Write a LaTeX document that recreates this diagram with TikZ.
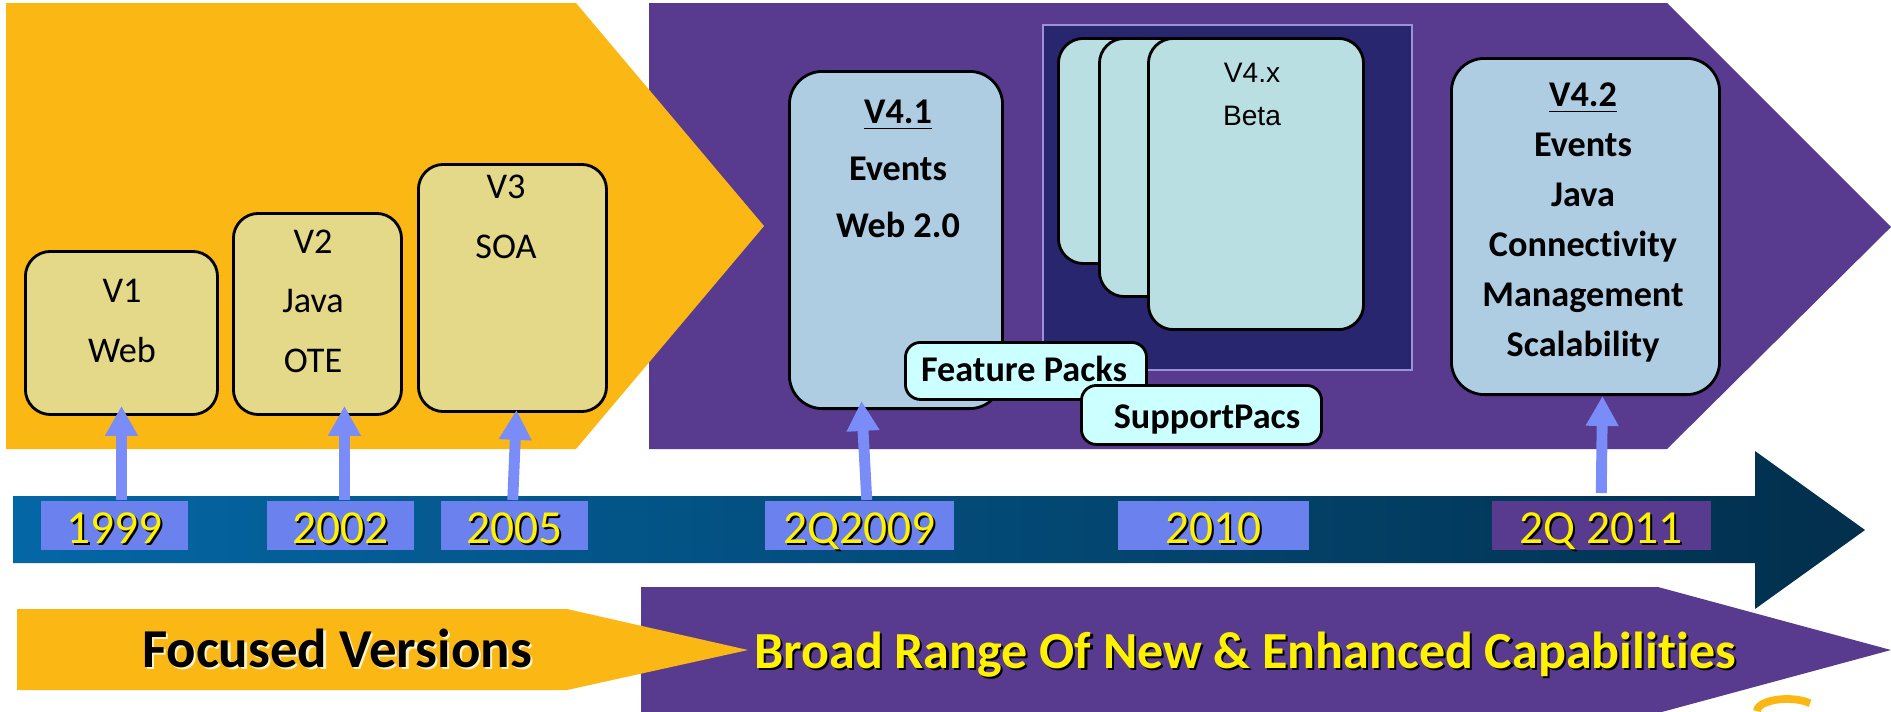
\documentclass[tikz,border=0pt]{standalone}
\usepackage{fontspec}
\setmainfont{Carlito}[Ligatures=NoCommon]
\newfontfamily\betafont{Liberation Sans}
\usetikzlibrary{arrows.meta}

\definecolor{banorange}{HTML}{FBB814}
\definecolor{banpurple}{HTML}{583B8E}
\definecolor{verkhaki}{HTML}{E3D988}
\definecolor{verblue}{HTML}{AECDE3}
\definecolor{betacyan}{HTML}{B9DFE2}
\definecolor{packcyan}{HTML}{CCFFFF}
\definecolor{betanavy}{HTML}{27266F}
\definecolor{betaedge}{HTML}{9C92DA}
\definecolor{yearfill}{HTML}{6A81EE}
\definecolor{yearlink}{HTML}{7A8CF8}
\definecolor{tlblue}{HTML}{0467A5}
\definecolor{tldark}{HTML}{022F4C}
\definecolor{glow}{HTML}{FFF4C8}

\newcommand{\shadowed}[3]{\makebox[0pt][l]{\hspace{0.6pt}\raisebox{-0.6pt}{\color{#1}#3}}{\color{#2}#3}}

\begin{document}
\begin{tikzpicture}[x=0.01cm, y=-0.01cm, >={Triangle[width=8.8pt,length=8.5pt]},
	verbox/.style={draw, line width=0.8pt, rounded corners=0.25cm, fill=verkhaki,
		anchor=north west, inner sep=0pt},
	newbox/.style={verbox, fill=verblue, rounded corners=0.33cm},
	betacard/.style={verbox, fill=betacyan, minimum width=2.15cm},
	packbox/.style={verbox, fill=packcyan, rounded corners=0.15cm},
	vertext/.style={anchor=base, align=center, font=\fontsize{10.3}{16.8}\selectfont},
	boldtext/.style={anchor=base, align=center, font=\bfseries\fontsize{10.3}{14.2}\selectfont},
	yearbox/.style={fill=yearfill, anchor=north west, inner sep=0pt, minimum height=0.49cm},
	yeartext/.style={anchor=base, font=\fontsize{13.5}{16}\selectfont},
	bantext/.style={anchor=base, font=\bfseries\fontsize{15.6}{18}\selectfont},
	link/.style={->, draw=yearlink, fill=yearlink, line width=3.1pt}]

	\useasboundingbox (0,0) rectangle (1891,711);
	\clip (0,0) rectangle (1891,711);

	% big chevrons
	\fill[banpurple] (649,3) -- (1667,3) -- (1891,227) -- (1667,449) -- (649,449) -- cycle;
	\fill[banorange] (6,3) -- (576,3) -- (764,226) -- (576,449) -- (6,449) -- cycle;

	% time line
	\shade[left color=tlblue, right color=tldark] (13,496) -- (1755,496) -- (1755,451)
		-- (1865,530) -- (1755,609) -- (1755,563) -- (13,563) -- cycle;

	% bottom banners
	\fill[banpurple] (641,587) -- (1658,587) -- (1891,650) -- (1658,713) -- (641,713) -- cycle;
	\fill[banorange] (17,609) -- (567,609) -- (748,650) -- (567,690) -- (17,690) -- cycle;
	\draw[banorange, line width=2.2pt] (1757,711) arc[start angle=180, end angle=40,
		x radius=0.3cm, y radius=0.12cm];

	% focused versions
	\node[verbox, minimum width=1.92cm, minimum height=1.63cm] (v1) at (24,250) {};
	\node[verbox, minimum width=1.68cm, minimum height=2.01cm] (v2) at (232,212) {};
	\node[verbox, minimum width=1.88cm, minimum height=2.47cm] (v3) at (417,163) {};

	\node[vertext] (v1txt) at (122,362) {V1\\Web};
	\node[vertext] (v2txt) at (313,372) {V2\\Java\\OTE};
	\node[vertext] (v3txt) at (506,258) {V3\\SOA};

	% beta drops
	\node[fill=betanavy, draw=betaedge, line width=0.6pt, anchor=north west, inner sep=0pt,
		minimum width=3.69cm, minimum height=3.45cm] (betaframe) at (1042,24) {};
	\node[betacard, minimum height=2.25cm] (beta1) at (1057,37) {};
	\node[betacard, minimum height=2.58cm] (beta2) at (1098,37) {};
	\node[betacard, minimum height=2.91cm] (beta3) at (1147,37) {};
	\node[anchor=base, align=center, font=\betafont\fontsize{8}{12}\selectfont]
		(betatxt) at (1252,125) {V4.x\\Beta};

	% new versions
	\node[newbox, minimum width=2.13cm, minimum height=3.37cm] (v41) at (788,70) {};
	\node[boldtext, font=\bfseries\fontsize{10.3}{16.2}\selectfont] (v41txt) at (898,237)
		{\underline{V4.1}\\Events\\Web 2.0};

	\node[packbox, minimum width=2.41cm, minimum height=0.57cm] (fpack) at (904,341) {};
	\node[boldtext] (fpacktxt) at (1024,381) {Feature Packs};
	\node[packbox, minimum width=2.40cm, minimum height=0.59cm] (spack) at (1080,384) {};
	\node[boldtext] (spacktxt) at (1207,428) {SupportPacs};

	\node[newbox, minimum width=2.68cm, minimum height=3.36cm] (v42) at (1450,57) {};
	\node[boldtext] (v42txt) at (1583,356)
		{\underline{V4.2}\\Events\\Java\\Connectivity\\Management\\Scalability};

	% years
	\node[yearbox, minimum width=1.47cm] (y1999) at (40,500) {};
	\node[yearbox, minimum width=1.47cm] (y2002) at (266,500) {};
	\node[yearbox, minimum width=1.47cm] (y2005) at (440,500) {};
	\node[yearbox, minimum width=1.89cm] (y2009) at (764,500) {};
	\node[yearbox, minimum width=1.91cm] (y2010) at (1117,500) {};
	\node[yearbox, fill=banpurple, minimum width=2.19cm] (y2011) at (1491,500) {};

	\node[yeartext] at (y1999.center) [yshift=-5.2pt] (t1999) {\shadowed{black}{yellow}{1999}};
	\node[yeartext] at (y2002.center) [yshift=-5.2pt] (t2002) {\shadowed{black}{yellow}{2002}};
	\node[yeartext] at (y2005.center) [yshift=-5.2pt] (t2005) {\shadowed{black}{yellow}{2005}};
	\node[yeartext] at (y2009.center) [yshift=-5.2pt] (t2009) {\shadowed{black}{yellow}{2Q2009}};
	\node[yeartext] at (y2010.center) [yshift=-5.2pt] (t2010) {\shadowed{black}{yellow}{2010}};
	\node[yeartext] at (y2011.center) [yshift=-5.2pt] (t2011) {\shadowed{black}{yellow}{2Q 2011}};

	\draw[link] (v1.south |- y1999.north) -- ([yshift=0.1cm]v1.south);
	\draw[link] ([xshift=0.27cm]v2.south |- y2002.north) -- ([xshift=0.27cm, yshift=0.1cm]v2.south);
	\draw[link] ([xshift=-0.015cm]y2005.north) -- ([xshift=0.04cm, yshift=0.03cm]v3.south);
	\draw[link] ([xshift=0.075cm]y2009.north) -- ([xshift=-0.345cm, yshift=0.09cm]v41.south);
	\draw[link] ([yshift=0.07cm]y2011.north) -- ([xshift=0.17cm]v42.south);

	% banner texts
	\node[bantext] (focus) at (337,667) {\shadowed{glow}{black}{Focused Versions}};
	\node[bantext, font=\bfseries\fontsize{14.8}{18}\selectfont] (broad) at (1245,668)
		{\shadowed{black}{yellow}{Broad Range Of New \& Enhanced Capabilities}};
\end{tikzpicture}
\end{document}
